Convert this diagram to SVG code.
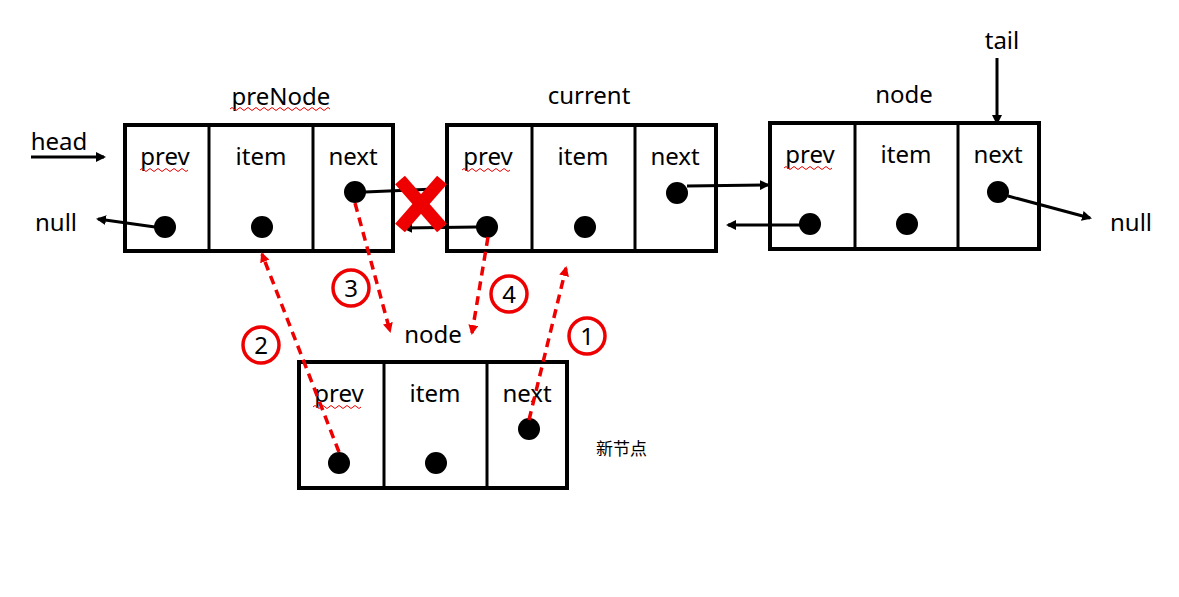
<svg xmlns="http://www.w3.org/2000/svg" width="1179" height="597" viewBox="0 0 1179 597">
<style>
.box{fill:#fff;stroke:#000;stroke-width:4}
.div{stroke:#000;stroke-width:3}
.t{font-family:"Noto Sans","Noto Sans CJK SC",sans-serif;font-size:24px;fill:#000;text-anchor:middle}
.d{fill:#000}
.bl{stroke:#000;stroke-width:3;fill:none}
.rd{stroke:#e00;stroke-width:3.5;stroke-dasharray:9,6;fill:none}
.c{fill:none;stroke:#e00;stroke-width:3.5}
.sq{stroke:#e00;stroke-width:1;fill:none}
</style>
<defs>
<marker id="ab" markerWidth="10" markerHeight="10" refX="8" refY="5" orient="auto" markerUnits="userSpaceOnUse"><path d="M0,0 L10,5 L0,10 Z" fill="#000"/></marker>
<marker id="ar" markerWidth="10" markerHeight="10" refX="8" refY="5" orient="auto" markerUnits="userSpaceOnUse"><path d="M0,0 L10,5 L0,10 Z" fill="#e00"/></marker>
</defs>
<g id="preNode">
<rect class="box" x="125" y="125" width="268" height="126"/>
<line class="div" x1="209" y1="125" x2="209" y2="251"/><line class="div" x1="313" y1="125" x2="313" y2="251"/>
<text class="t" x="165" y="165">prev</text><text class="t" x="261" y="165">item</text><text class="t" x="353" y="165">next</text>
<circle class="d" cx="165" cy="227" r="11"/><circle class="d" cx="262" cy="227" r="11"/><circle class="d" cx="355" cy="192" r="11"/>
<text class="t" x="281" y="105">preNode</text>
</g>
<g id="current">
<rect class="box" x="447" y="125" width="269" height="126"/>
<line class="div" x1="532" y1="125" x2="532" y2="251"/><line class="div" x1="635" y1="125" x2="635" y2="251"/>
<text class="t" x="488" y="165">prev</text><text class="t" x="583" y="165">item</text><text class="t" x="675" y="165">next</text>
<circle class="d" cx="487" cy="227" r="11"/><circle class="d" cx="585" cy="227" r="11"/><circle class="d" cx="677" cy="193" r="11"/>
<text class="t" x="589" y="104" font-size="22">current</text>
</g>
<g id="node">
<rect class="box" x="770" y="123" width="269" height="126"/>
<line class="div" x1="855" y1="123" x2="855" y2="249"/><line class="div" x1="958" y1="123" x2="958" y2="249"/>
<text class="t" x="810" y="163">prev</text><text class="t" x="906" y="163">item</text><text class="t" x="998" y="163">next</text>
<circle class="d" cx="810" cy="224" r="11"/><circle class="d" cx="907" cy="224" r="11"/><circle class="d" cx="998" cy="192" r="11"/>
<text class="t" x="904" y="103">node</text>
</g>
<g id="newNode">
<rect class="box" x="299" y="362" width="268" height="126"/>
<line class="div" x1="384" y1="362" x2="384" y2="488"/><line class="div" x1="487" y1="362" x2="487" y2="488"/>
<text class="t" x="339" y="402">prev</text><text class="t" x="435" y="402">item</text><text class="t" x="527" y="402">next</text>
<circle class="d" cx="339" cy="463" r="11"/><circle class="d" cx="436" cy="463" r="11"/><circle class="d" cx="529" cy="429" r="11"/>
<text class="t" x="433" y="343">node</text>
<text x="596" y="455" font-family="Noto Sans CJK SC,sans-serif" font-size="17" fill="#000">新节点</text>
</g>
<g id="labels">
<text x="59" y="150" class="t" font-size="19">head</text>
<text x="1002" y="49" class="t">tail</text>
<text x="56" y="231" class="t" font-size="36">null</text>
<text x="1131" y="231" class="t" font-size="36">null</text>
<path class="sq" d="M140,170 q2,-3 4,0 t4,0 t4,0 t4,0 t4,0 t4,0 t4,0 t4,0 t4,0 t4,0 t4,0 t4,0 M230,109 q2,-3 4,0 t4,0 t4,0 t4,0 t4,0 t4,0 t4,0 t4,0 t4,0 t4,0 t4,0 t4,0 t4,0 t4,0 t4,0 t4,0 t4,0 t4,0 t4,0 t4,0 t4,0 t4,0 t4,0 t4,0 t4,0 M462,170 q2,-3 4,0 t4,0 t4,0 t4,0 t4,0 t4,0 t4,0 t4,0 t4,0 t4,0 t4,0 t4,0 M784,168 q2,-3 4,0 t4,0 t4,0 t4,0 t4,0 t4,0 t4,0 t4,0 t4,0 t4,0 t4,0 t4,0 M313,407 q2,-3 4,0 t4,0 t4,0 t4,0 t4,0 t4,0 t4,0 t4,0 t4,0 t4,0 t4,0 t4,0"/>
</g>
<g id="connectors">
<line class="bl" x1="31" y1="157" x2="104" y2="157" marker-end="url(#ab)"/>
<line class="bl" x1="997" y1="58" x2="997" y2="123" marker-end="url(#ab)"/>
<line class="bl" x1="155" y1="227" x2="98" y2="219" marker-end="url(#ab)"/>
<line class="bl" x1="365" y1="192" x2="435" y2="189"/>
<line class="bl" x1="477" y1="227" x2="404" y2="228" marker-end="url(#ab)"/>
<line class="bl" x1="687" y1="186" x2="768" y2="185" marker-end="url(#ab)"/>
<line class="bl" x1="800" y1="225" x2="728" y2="225" marker-end="url(#ab)"/>
<line class="bl" x1="1008" y1="196" x2="1090" y2="218" marker-end="url(#ab)"/>
<g stroke="#e00" stroke-width="13" stroke-linecap="butt"><line x1="400" y1="180" x2="442" y2="228"/><line x1="442" y1="180" x2="400" y2="228"/></g>
<line class="rd" x1="529" y1="420" x2="566" y2="268" marker-end="url(#ar)"/>
<line class="rd" x1="339" y1="452" x2="262" y2="254" marker-end="url(#ar)"/>
<line class="rd" x1="355" y1="203" x2="390" y2="331" marker-end="url(#ar)"/>
<line class="rd" x1="488" y1="237" x2="472" y2="333" marker-end="url(#ar)"/>
<circle class="c" cx="587" cy="336" r="18"/><text class="t" x="587" y="345" font-size="22">1</text>
<circle class="c" cx="261" cy="345" r="18"/><text class="t" x="261" y="354" font-size="22">2</text>
<circle class="c" cx="351" cy="288" r="18"/><text class="t" x="351" y="297" font-size="22">3</text>
<circle class="c" cx="509" cy="294" r="18"/><text class="t" x="509" y="303" font-size="22">4</text>
</g>
</svg>
